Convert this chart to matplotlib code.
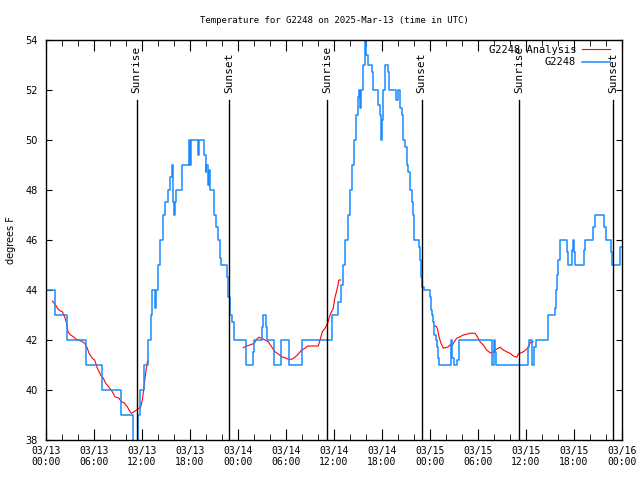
import matplotlib
matplotlib.use("Agg")
import matplotlib.pyplot as plt
from matplotlib.ticker import MultipleLocator

# hours since 03/13 00:00 UTC
blue_t = [0, 1.1, 2.6, 5.0, 7.0, 9.35, 10.83, 11.46, 11.8, 12.25, 12.75, 13.1, 13.3, 13.6,
          13.8, 14.05, 14.3, 14.6, 14.9, 15.2, 15.55, 15.75, 15.9, 16.05, 16.15, 16.3, 16.95,
          17.05, 17.9, 18.05, 18.15, 18.95, 19.1, 19.8, 19.95, 20.05, 20.2, 20.35, 20.5, 21.0,
          21.25, 21.5, 21.75, 21.85, 22.6, 22.8, 23.0, 23.2, 23.45, 25.0, 25.9, 26.0, 27.0,
          27.15, 27.45, 27.6, 28.5, 29.35, 30.35, 31.95, 35.8, 36.5, 36.9, 37.15, 37.4, 37.8,
          38.0, 38.2, 38.5, 38.75, 39.0, 39.15, 39.25, 39.4, 39.6, 39.85, 40.05, 40.2, 40.7,
          40.9, 41.5, 41.7, 41.85, 42.0, 42.15, 42.35, 42.75, 42.9, 43.7, 44.0, 44.2, 44.5,
          44.65, 44.9, 45.1, 45.3, 45.5, 45.7, 45.85, 46.0, 46.6, 46.75, 46.85, 47.0, 47.2,
          48.0, 48.1, 48.2, 48.4, 48.5, 48.7, 48.85, 49.0, 49.15, 50.6, 50.8, 50.95, 51.4,
          51.6, 55.8, 55.95, 56.1, 56.3, 60.2, 60.4, 60.8, 60.95, 61.2, 62.75, 63.6, 63.75,
          63.9, 64.0, 64.2, 65.1, 65.3, 65.8, 65.9, 66.0, 66.15, 67.2, 67.35, 68.4, 68.6,
          69.8, 70.0, 70.6, 70.8, 71.75, 72.0]
blue_v = [44, 43, 42, 41, 40, 39, 37, 39, 40, 41, 42, 43, 44, 43.3,
          44, 45, 46, 47, 47.5, 48, 48.5, 49, 47.5, 47, 47.5, 48, 48.5,
          49, 50, 49, 50, 49.4, 50, 49.4, 48.7, 49, 48.2, 48.8, 48, 47,
          46.5, 46, 45.3, 45, 44.5, 43.7, 43, 42.7, 42, 41, 41.5, 42, 42.5,
          43, 42.5, 42, 41, 42, 41, 42, 43, 43.5, 44.2, 45, 46, 47,
          48, 49, 50, 51, 51.7, 52, 51.3, 52, 53, 54, 53.4, 53, 52.7,
          52, 51.4, 51, 50, 50.8, 52, 53, 52.7, 52, 51.6, 52, 51.3, 51,
          50, 49.7, 49, 48.7, 48, 47.5, 47, 46, 45.7, 45.2, 44.5, 44.1, 44,
          43.7, 43.2, 43, 42.7, 42.2, 42, 41.7, 41.3, 41, 42, 41.3, 41, 41.2,
          42, 41, 42, 41.5, 41, 41.7, 42, 41, 41.7, 42, 43, 43.3, 44,
          44.6, 45.2, 46, 45.5, 45, 45.6, 46, 45.5, 45, 45.6, 46, 46.5, 47,
          46.5, 46, 45.5, 45, 45.7, 45.7]

red_t1 = [0.79, 1.21, 1.42, 1.75, 2.04, 2.33, 2.58, 2.75, 3.08, 3.42, 3.75, 4.13, 4.54, 4.83,
          5.17, 5.375, 5.79, 6.08, 6.42, 6.83, 7.17, 7.46, 7.875, 8.29, 8.625, 9.125, 9.42,
          9.75, 10.17, 10.5, 10.67, 11.0, 11.33, 11.625, 11.83, 12.04, 12.25, 12.46, 12.67, 12.8]
red_v1 = [43.56, 43.4, 43.27, 43.17, 43.13, 42.93, 42.67, 42.33, 42.2, 42.13, 42.04, 42.0, 41.93,
          41.87, 41.67, 41.47, 41.27, 41.2, 40.87, 40.6, 40.47, 40.27, 40.11, 39.93, 39.73, 39.67,
          39.53, 39.49, 39.33, 39.13, 39.07, 39.13, 39.2, 39.27, 39.31, 39.6, 40.13, 40.67, 41.13, 41.2]
red_t2 = [24.67, 25.08, 25.5, 26.04, 26.33, 26.625, 26.96, 27.375, 27.79, 28.2, 28.625, 29.04,
          29.46, 29.875, 30.29, 30.71, 31.125, 31.54, 31.96, 32.375, 32.7, 33.2, 34.04, 34.25,
          34.54, 34.875, 35.2, 35.5, 35.9, 36.1, 36.3, 36.5, 36.6, 36.83]
red_v2 = [41.69, 41.76, 41.8, 41.87, 42.03, 42.11, 42.07, 42.0, 41.93, 41.73, 41.53, 41.44,
          41.33, 41.29, 41.23, 41.23, 41.31, 41.44, 41.6, 41.67, 41.76, 41.76, 41.76, 42.0,
          42.33, 42.47, 42.67, 43.0, 43.27, 43.67, 43.93, 44.2, 44.4, 44.4]
red_t3 = [48.54, 48.83, 48.96, 49.125, 49.375, 49.67, 50.08, 50.29, 50.5, 50.71, 51.04, 51.33,
          51.75, 52.17, 52.58, 53.0, 53.625, 53.96, 54.25, 54.67, 55.08, 55.5, 55.79, 56.125,
          56.75, 57.17, 57.58, 58.0, 58.42, 58.83, 59.04, 59.67, 60.2, 60.4, 60.6, 60.9]
red_v3 = [42.57, 42.53, 42.4, 42.13, 41.87, 41.67, 41.71, 41.73, 41.8, 41.76, 41.93, 42.07,
          42.13, 42.2, 42.23, 42.27, 42.27, 42.11, 41.93, 41.8, 41.6, 41.49, 41.49, 41.6,
          41.71, 41.6, 41.53, 41.47, 41.36, 41.31, 41.44, 41.53, 41.67, 41.8, 41.93, 41.93]

sun_t = [11.33, 22.92, 35.17, 46.96, 59.17, 70.9]
sun_lbl = ["Sunrise", "Sunset", "Sunrise", "Sunset", "Sunrise", "Sunset"]

days = ["03/13", "03/13", "03/13", "03/13", "03/14", "03/14", "03/14", "03/14",
        "03/15", "03/15", "03/15", "03/15", "03/16"]
hrs = ["00:00", "06:00", "12:00", "18:00"] * 3 + ["00:00"]

mono = "DejaVu Sans Mono"

fig = plt.figure(figsize=(6.4, 4.8), dpi=100)
ax = fig.add_axes([46 / 640, 40 / 480, 576 / 640, 400 / 480])

ax.plot(red_t1, red_v1, color="#ff0000", lw=0.8, label="G2248 Analysis")
ax.plot(red_t2, red_v2, color="#ff0000", lw=0.8)
ax.plot(red_t3, red_v3, color="#ff0000", lw=0.8)
ax.plot(blue_t, blue_v, color="#1a8cff", lw=1.1, drawstyle="steps-post", label="G2248")

for t, lbl in zip(sun_t, sun_lbl):
    ax.axvline(t, ymin=0, ymax=0.851, color="black", lw=1.0)
    ax.text(t, 0.868, lbl, transform=ax.get_xaxis_transform(), rotation=90,
            ha="center", va="bottom", fontsize=8, family=mono)

ax.set_xlim(0, 72)
ax.set_ylim(38, 54)
ax.set_xticks(range(0, 73, 6))
ax.set_xticklabels([d + "\n" + h for d, h in zip(days, hrs)], family=mono, fontsize=7)
ax.xaxis.set_minor_locator(MultipleLocator(2))
ax.set_yticks(range(38, 55, 2))
ax.tick_params(axis="y", labelsize=7, length=4, direction="in", right=True, pad=6)
ax.tick_params(axis="x", which="major", length=8, direction="in", top=True, pad=4)
ax.tick_params(axis="x", which="minor", length=4, direction="in", top=True)
for s in ax.spines.values():
    s.set_linewidth(1.0)

ax.set_ylabel("degrees F", fontsize=7)
ax.yaxis.set_label_coords(-0.052, 0.5)
ax.set_title("Temperature for G2248 on 2025-Mar-13 (time in UTC)", family=mono,
             fontsize=6.5, pad=12)

ax.legend(loc="upper right", bbox_to_anchor=(0.98, 0.988), frameon=False,
          markerfirst=False, handlelength=2.7, prop={"family": mono, "size": 7.5},
          borderaxespad=0, borderpad=0, labelspacing=0.25, handletextpad=0.6)

fig.savefig("out.png", dpi=100)
